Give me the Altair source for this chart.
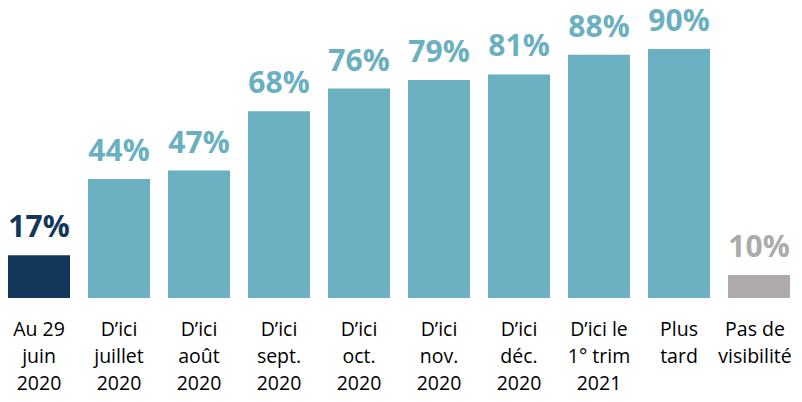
import altair as alt
import pandas as pd

categories = [
    "Au 29|juin|2020",
    "D’ici|juillet|2020",
    "D’ici|août|2020",
    "D’ici|sept.|2020",
    "D’ici|oct.|2020",
    "D’ici|nov.|2020",
    "D’ici|déc.|2020",
    "D’ici le|1° trim|2021",
    "Plus|tard",
    "Pas de|visibilité",
]
values = [17, 44, 47, 68, 76, 79, 81, 88, 90, 10]
groups = ["now", "future", "future", "future", "future", "future", "future", "future", "future", "none"]
group_names = ["now", "future", "none"]
group_colors = ["#13375A", "#6AB0C0", "#AEAAAA"]

df = pd.DataFrame({
    "cat": categories,
    "value": values,
    "group": groups,
    "label": [f"{v}%" for v in values],
})

FONT = "Open Sans"
base_min = 1.9

x = alt.X(
    "cat:N",
    sort=categories,
    scale=alt.Scale(paddingInner=0.225, paddingOuter=0),
    axis=alt.Axis(
        title=None,
        labelExpr="split(datum.label, '|')",
        labelAngle=0,
        labelFont=FONT,
        labelFontSize=19.5,
        labelLineHeight=27,
        labelColor="#000000",
        labelBaseline="top",
        labelPadding=22,
        labelOffset={"condition": {"test": "datum.value == 'Pas de|visibilité'", "value": -4}, "value": 0},
        labelLimit=0,
        labelOverlap=False,
        labelBound=False,
        ticks=False,
        tickSize=0,
        domain=False,
        grid=False,
    ),
)
y = alt.Y(
    "value:Q",
    scale=alt.Scale(domain=[base_min, 104.5], nice=False, zero=False),
    axis=None,
)
color = alt.Color(
    "group:N",
    scale=alt.Scale(domain=group_names, range=group_colors),
    legend=None,
)

bars = alt.Chart(df).mark_bar().encode(
    x=x, y=y, y2=alt.Y2(datum=base_min), color=color
)
labels = alt.Chart(df).mark_text(
    font=FONT, fontSize=30, fontWeight="bold", baseline="alphabetic", dy=-18
).encode(x=x, y=y, text="label:N", color=color)

chart = (
    alt.layer(bars, labels)
    .properties(
        width=782,
        height=290,
        autosize=alt.AutoSizeParams(type="none"),
        padding={"left": 0, "top": 0, "right": 4, "bottom": 96},
    )
    .configure_view(stroke=None)
)

chart.save("out.html", embed_options={"renderer": "svg", "actions": False})
